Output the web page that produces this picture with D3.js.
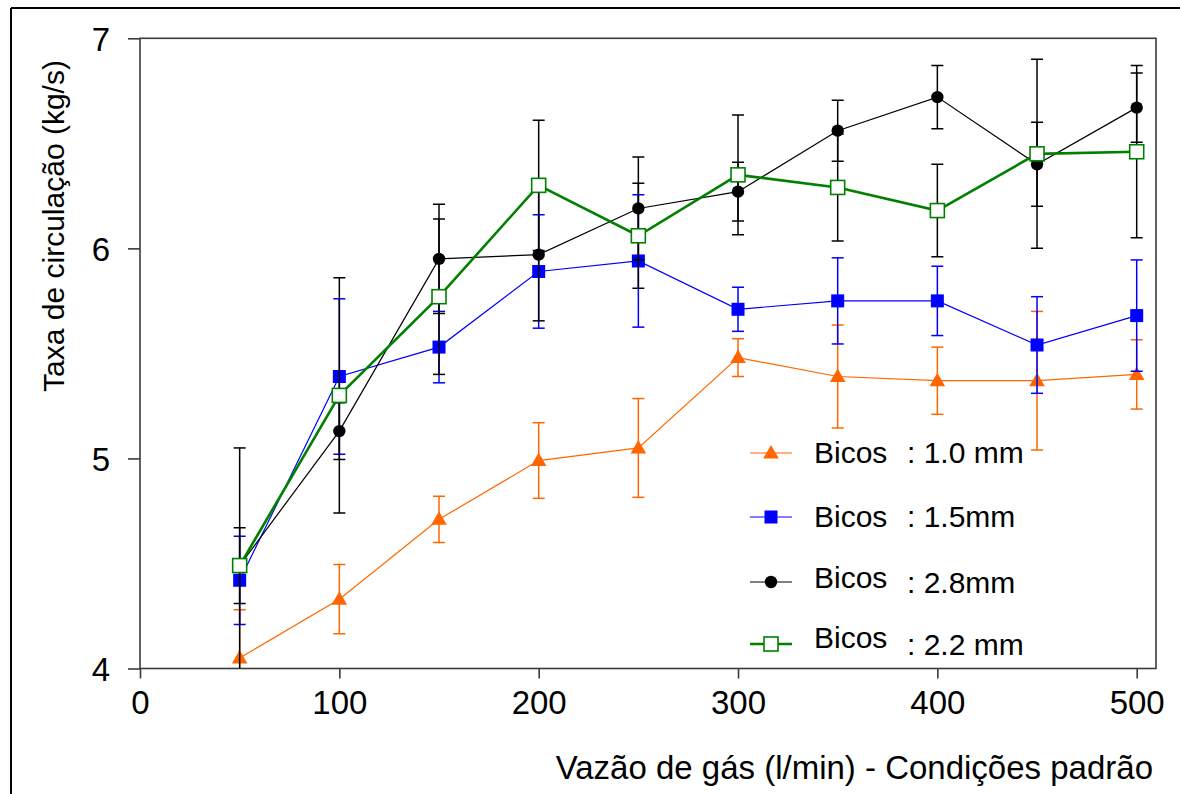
<!DOCTYPE html>
<html>
<head>
<meta charset="utf-8">
<script src="https://cdn.jsdelivr.net/npm/d3@7"></script>
<style>
    html, body { margin: 0; padding: 0; background: #fff; }
    svg text { font-family: "Liberation Sans", Arial, sans-serif; fill: #000; }
</style>
</head>
<body>
<svg id="chart" width="1180" height="794"></svg>
<script>
/* Taxa de circulação vs vazão de gás - four nozzle sizes with error bars */

// Data
const gasFlow = [50, 100, 150, 200, 250, 300, 350, 400, 450, 500];

const rate10 = [4.05, 4.33, 4.71, 4.99, 5.05, 5.48, 5.39, 5.37, 5.37, 5.40];
const err10  = [0.23, 0.165, 0.11, 0.18, 0.235, 0.09, 0.245, 0.16, 0.33, 0.165];

const rate15 = [4.42, 5.39, 5.53, 5.89, 5.94, 5.71, 5.75, 5.75, 5.54, 5.68];
const err15  = [0.21, 0.37, 0.17, 0.27, 0.315, 0.105, 0.205, 0.165, 0.23, 0.265];

const rate28 = [4.49, 5.13, 5.95, 5.97, 6.19, 6.27, 6.56, 6.72, 6.40, 6.67];
const err28  = [0.56, 0.135, 0.26, 0.315, 0.245, 0.14, 0.145, 0.15, 0.2, 0.165];

const rate22 = [4.49, 5.30, 5.77, 6.30, 6.06, 6.35, 6.29, 6.18, 6.45, 6.46];
const err22  = [0.18, 0.56, 0.37, 0.31, 0.25, 0.285, 0.255, 0.22, 0.45, 0.41];

const xTicks = [0, 100, 200, 300, 400, 500];
const yTicks = [4, 5, 6, 7];

const xTitle = 'Vazão de gás (l/min) - Condições padrão';
const yTitle = 'Taxa de circulação (kg/s)';

const seriesNames = ['1.0 mm', '1.5mm', '2.8mm', '2.2 mm'];

// Series setup (drawing order: orange, blue, black, green)
const series = [
    { name: seriesNames[0], values: rate10, errs: err10, color: '#ff6600', errColor: '#ff6600', width: 1.2, marker: 'triangle' },
    { name: seriesNames[1], values: rate15, errs: err15, color: '#0000ff', errColor: '#0000ff', width: 1.2, marker: 'square' },
    { name: seriesNames[2], values: rate28, errs: err28, color: '#000000', errColor: '#000000', width: 1.2, marker: 'circle' },
    { name: seriesNames[3], values: rate22, errs: err22, color: '#008000', errColor: '#000000', width: 2.6, marker: 'open' }
];

const svg = d3.select('#chart');

// Plot frame
const frame = { left: 140, right: 1156, top: 38.3, bottom: 668.5 };

const xScale = d3.scaleLinear().domain([0, 500]).range([140, 1136.7]);
const yScale = d3.scaleLinear().domain([4, 7]).range([frame.bottom, frame.top]);

// Outer figure border (left & top only)
svg.append('line').attr('x1', 11).attr('x2', 11).attr('y1', 8).attr('y2', 794)
    .attr('stroke', '#000').attr('stroke-width', 2);
svg.append('line').attr('x1', 11).attr('x2', 1180).attr('y1', 8).attr('y2', 8)
    .attr('stroke', '#000').attr('stroke-width', 2);

svg.append('defs').append('clipPath').attr('id', 'plot-clip')
    .append('rect')
    .attr('x', frame.left).attr('y', frame.top)
    .attr('width', frame.right - frame.left)
    .attr('height', frame.bottom - frame.top);

svg.append('rect')
    .attr('x', frame.left).attr('y', frame.top)
    .attr('width', frame.right - frame.left)
    .attr('height', frame.bottom - frame.top)
    .attr('fill', 'none')
    .attr('stroke', '#3a3a3a')
    .attr('stroke-width', 1.6);

// Axes
const xAxis = d3.axisBottom(xScale).tickValues(xTicks).tickSize(10).tickPadding(12).tickFormat(d3.format('d'));
const yAxis = d3.axisLeft(yScale).tickValues(yTicks).tickSize(12).tickPadding(18).tickFormat(d3.format('d'));

const xAxisGroup = svg.append('g')
    .attr('transform', `translate(0,${frame.bottom})`)
    .call(xAxis);
const yAxisGroup = svg.append('g')
    .attr('transform', `translate(${frame.left},0)`)
    .call(yAxis);

[xAxisGroup, yAxisGroup].forEach(gr => {
    gr.select('.domain').remove();
    gr.selectAll('.tick line').attr('stroke', '#3a3a3a').attr('stroke-width', 1.6);
    gr.selectAll('.tick text')
        .style('font-family', '"Liberation Sans", Arial, sans-serif')
        .style('font-size', '33px')
        .attr('fill', '#000');
});
yAxisGroup.selectAll('.tick text').attr('dy', '0.36em');

// Axis titles
svg.append('text')
    .attr('x', 1153).attr('y', 779)
    .attr('text-anchor', 'end')
    .style('font-size', '33px')
    .text(xTitle);

svg.append('text')
    .attr('transform', 'translate(64,226) rotate(-90)')
    .attr('text-anchor', 'middle')
    .style('font-size', '30px')
    .text(yTitle);

// Marker drawing
function drawMarker(sel, type, color) {
    if (type === 'triangle') {
        sel.append('path')
            .attr('d', d3.symbol().type(d3.symbolTriangle).size(105)())
            .attr('transform', 'translate(0,1)')
            .attr('fill', color);
    } else if (type === 'square') {
        sel.append('rect')
            .attr('x', -6.5).attr('y', -6.5).attr('width', 13).attr('height', 13)
            .attr('fill', color);
    } else if (type === 'circle') {
        sel.append('circle').attr('r', 6.2).attr('fill', color);
    } else {
        sel.append('rect')
            .attr('x', -7).attr('y', -7).attr('width', 14).attr('height', 14)
            .attr('fill', '#fff').attr('stroke', color).attr('stroke-width', 1.6);
    }
}

const plot = svg.append('g');

series.forEach(s => {
    const pts = gasFlow.map((x, i) => ({ x: x, y: s.values[i], e: s.errs[i] }));
    const g = plot.append('g');

    // Error bars
    const eb = g.append('g').attr('clip-path', 'url(#plot-clip)');
    pts.forEach(p => {
        const cx = xScale(p.x);
        const y1 = yScale(p.y + p.e);
        const y0 = yScale(p.y - p.e);
        eb.append('line').attr('x1', cx).attr('x2', cx).attr('y1', y1).attr('y2', y0)
            .attr('stroke', s.errColor).attr('stroke-width', 1.5);
        [y1, y0].forEach(yy => {
            eb.append('line').attr('x1', cx - 6).attr('x2', cx + 6).attr('y1', yy).attr('y2', yy)
                .attr('stroke', s.errColor).attr('stroke-width', 1.5);
        });
    });

    // Line
    g.append('path')
        .datum(pts)
        .attr('d', d3.line().x(d => xScale(d.x)).y(d => yScale(d.y)))
        .attr('fill', 'none')
        .attr('stroke', s.color)
        .attr('stroke-width', s.width);

    // Markers
    pts.forEach(p => {
        const m = g.append('g').attr('transform', `translate(${xScale(p.x)},${yScale(p.y)})`);
        drawMarker(m, s.marker, s.color);
    });
});

// Legend
const legendRows = [
    { y: 453, nameDy: 10, valDy: 10 },
    { y: 517, nameDy: 10, valDy: 10 },
    { y: 582, nameDy: 6, valDy: 11 },
    { y: 644, nameDy: 4, valDy: 11 }
];

const legend = svg.append('g');
series.forEach((s, i) => {
    const row = legendRows[i];
    const g = legend.append('g');
    g.append('line').attr('x1', 750).attr('x2', 792).attr('y1', row.y).attr('y2', row.y)
        .attr('stroke', s.color).attr('stroke-width', s.width);
    const m = g.append('g').attr('transform', `translate(771,${row.y})`);
    drawMarker(m, s.marker, s.color);
    g.append('text').attr('x', 814).attr('y', row.y + row.nameDy)
        .style('font-size', '30px').text('Bicos');
    g.append('text').attr('x', 907).attr('y', row.y + row.valDy)
        .style('font-size', '30px').text(': ' + s.name);
});
</script>
</body>
</html>
